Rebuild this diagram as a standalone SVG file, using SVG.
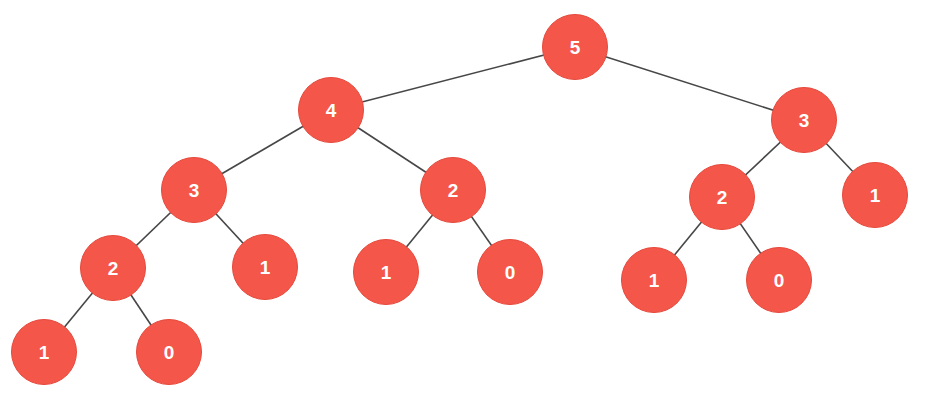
<svg xmlns="http://www.w3.org/2000/svg" width="927" height="403" viewBox="0 0 927 403">
<style>
.n circle{fill:#f4574a;stroke:#e6493c;stroke-width:1}
.n text{fill:#fff;font-family:"Liberation Sans",Arial,sans-serif;font-weight:bold;font-size:19px;text-anchor:middle;dominant-baseline:central}
#edges line{stroke:#474747;stroke-width:1.6}
</style>
<rect width="927" height="403" fill="#fff"/>
<g id="edges">
<line x1="575" y1="47" x2="331" y2="110"/>
<line x1="575" y1="47" x2="804" y2="120"/>
<line x1="331" y1="110" x2="194" y2="190"/>
<line x1="331" y1="110" x2="453" y2="190"/>
<line x1="194" y1="190" x2="113" y2="268"/>
<line x1="194" y1="190" x2="265" y2="267"/>
<line x1="113" y1="268" x2="44" y2="352"/>
<line x1="113" y1="268" x2="169" y2="352"/>
<line x1="453" y1="190" x2="386" y2="272"/>
<line x1="453" y1="190" x2="510" y2="272"/>
<line x1="804" y1="120" x2="722" y2="197"/>
<line x1="804" y1="120" x2="875" y2="195"/>
<line x1="722" y1="197" x2="654" y2="280"/>
<line x1="722" y1="197" x2="779" y2="280"/>
</g>
<g id="n5" class="n"><circle cx="575" cy="47" r="32.5"/><text x="575" y="47">5</text></g>
<g id="n4" class="n"><circle cx="331" cy="110" r="32.5"/><text x="331" y="110">4</text></g>
<g id="n3r" class="n"><circle cx="804" cy="120" r="32.5"/><text x="804" y="120">3</text></g>
<g id="n3l" class="n"><circle cx="194" cy="190" r="32.5"/><text x="194" y="190">3</text></g>
<g id="n2m" class="n"><circle cx="453" cy="190" r="32.5"/><text x="453" y="190">2</text></g>
<g id="n2r" class="n"><circle cx="722" cy="197" r="32.5"/><text x="722" y="197">2</text></g>
<g id="n1rr" class="n"><circle cx="875" cy="195" r="32.5"/><text x="875" y="195">1</text></g>
<g id="n2l" class="n"><circle cx="113" cy="268" r="32.5"/><text x="113" y="268">2</text></g>
<g id="n1a" class="n"><circle cx="265" cy="267" r="32.5"/><text x="265" y="267">1</text></g>
<g id="n1m" class="n"><circle cx="386" cy="272" r="32.5"/><text x="386" y="272">1</text></g>
<g id="n0m" class="n"><circle cx="510" cy="272" r="32.5"/><text x="510" y="272">0</text></g>
<g id="n1r" class="n"><circle cx="654" cy="280" r="32.5"/><text x="654" y="280">1</text></g>
<g id="n0r" class="n"><circle cx="779" cy="280" r="32.5"/><text x="779" y="280">0</text></g>
<g id="n1l" class="n"><circle cx="44" cy="352" r="32.5"/><text x="44" y="352">1</text></g>
<g id="n0l" class="n"><circle cx="169" cy="352" r="32.5"/><text x="169" y="352">0</text></g>
</svg>
